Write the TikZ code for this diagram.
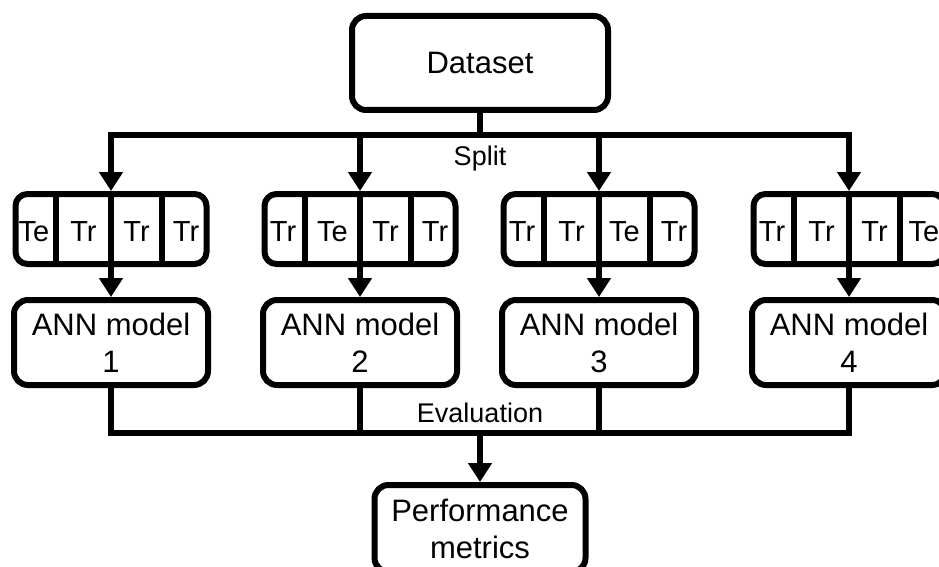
\documentclass[tikz,border=0pt]{standalone}
\usepackage{fontspec}
\setmainfont{Liberation Sans}
\usetikzlibrary{arrows.meta}
\tikzset{
  box/.style={draw, line width=6pt, rounded corners=14pt, align=center, inner sep=0pt},
  foldbox/.style={draw, line width=6pt, rounded corners=12pt, inner sep=0pt, minimum width=191pt, minimum height=70pt},
  big/.style={font=\fontsize{31}{37}\selectfont},
  lab/.style={font=\fontsize{27}{30}\selectfont, inner sep=0pt},
  cell/.style={font=\fontsize{29}{30}\selectfont, inner sep=0pt},
  link/.style={line width=6pt},
  arr/.style={line width=6pt, -{Triangle[width=23pt,length=19pt]}},
}
\begin{document}
\begin{tikzpicture}[x=1pt,y=-1pt]
\useasboundingbox (0,0) rectangle (939,567);
\clip (0,0) rectangle (939,567);

\node[box,big,minimum width=256pt,minimum height=94pt] (data) at (480,63) {Dataset};
\coordinate (sc) at (480,135);
\coordinate (ec) at (480,433);
\node[lab] (split) at (480,159) {Split};
\node[lab] (eval) at (480,413) {Evaluation};

\foreach \i/\x in {1/111,2/360,3/599,4/849}{
  \node[foldbox] (f\i) at (\x,229) {};
  \node[box,big,minimum width=194pt,minimum height=85pt] (a\i) at (\x,342.5) {ANN model\\\i};
}

\foreach \i/\a/\b/\c/\d in {1/Te/Tr/Tr/Tr,2/Tr/Te/Tr/Tr,3/Tr/Tr/Te/Tr,4/Tr/Tr/Tr/Te}{
  \node[cell] (c\i a) at ([xshift=-77pt,yshift=-3pt]f\i.center) {\a};
  \node[cell] (c\i b) at ([xshift=-27.5pt,yshift=-3pt]f\i.center) {\b};
  \node[cell] (c\i c) at ([xshift=25.5pt,yshift=-3pt]f\i.center) {\c};
  \node[cell] (c\i d) at ([xshift=75pt,yshift=-3pt]f\i.center) {\d};
  \draw[link] ([xshift=-55pt]f\i.north) -- ([xshift=-55pt]f\i.south);
  \draw[link] ([xshift=51pt]f\i.north) -- ([xshift=51pt]f\i.south);
}

\node[box,big,minimum width=211pt,minimum height=87pt] (perf) at (480,528.5) {Performance\\metrics};

\draw[link] (data.south) -- (sc);
\foreach \i in {1,...,4}{
  \draw[arr] (sc) -| (f\i.north);
  \draw[arr] (f\i.north) -- (a\i.north);
  \draw[link] (a\i.south) |- (ec);
}
\draw[arr] (ec) -- (perf.north);
\end{tikzpicture}
\end{document}
